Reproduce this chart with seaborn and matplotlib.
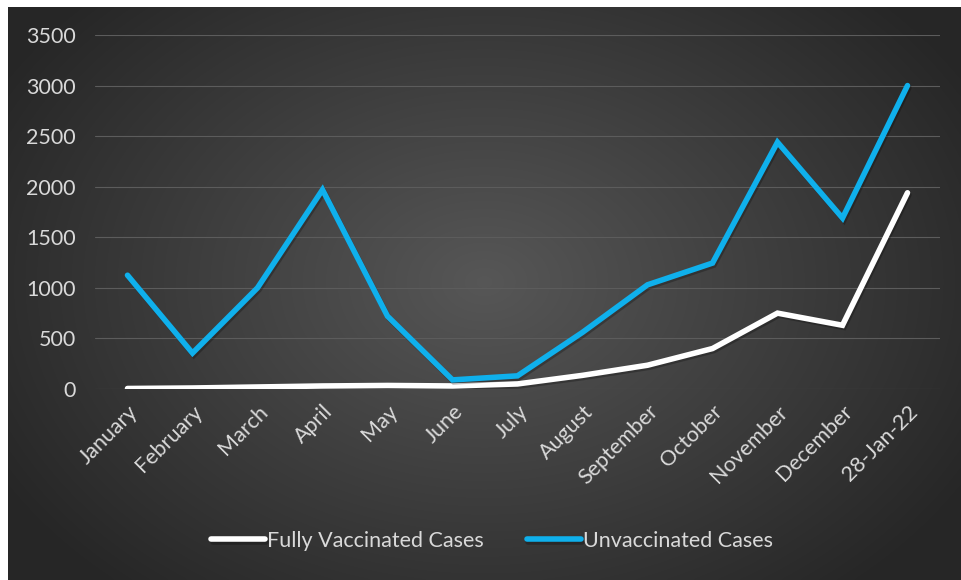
import numpy as np
import pandas as pd
import matplotlib
matplotlib.use('Agg')
import matplotlib.pyplot as plt
import matplotlib.patheffects as pe
import seaborn as sns

months = ['January', 'February', 'March', 'April', 'May', 'June', 'July',
          'August', 'September', 'October', 'November', 'December', '28-Jan-22']
fully_vaccinated = [5, 10, 20, 30, 35, 30, 50, 135, 235, 400, 750, 630, 1940]
unvaccinated = [1125, 355, 1000, 1970, 720, 90, 130, 560, 1030, 1245, 2440, 1690, 3000]

df = pd.DataFrame({
    'month': months * 2,
    'cases': fully_vaccinated + unvaccinated,
    'series': ['Fully Vaccinated Cases'] * len(months) + ['Unvaccinated Cases'] * len(months),
})

sns.set_theme(style='dark')
plt.rcParams['font.family'] = ['Lato', 'DejaVu Sans']

W, H = 961, 580
fig = plt.figure(figsize=(W / 100, H / 100), dpi=100)
fig.patch.set_facecolor('white')

# radial gradient background like the excel chart style
bg = fig.add_axes([8 / W, 0, 952 / W, 573 / H])
yy, xx = np.mgrid[0:1:300j, 0:1:500j]
r = np.sqrt(((xx - 0.5) / 0.62) ** 2 + ((yy - 0.48) / 0.75) ** 2)
shade = np.clip(0.34 - 0.2 * r, 0.15, 1)
bg.imshow(np.dstack([shade] * 3), aspect='auto', extent=[0, 1, 0, 1], interpolation='bicubic')
bg.set_axis_off()

ax = fig.add_axes([95 / W, 191 / H, 845 / W, 354 / H])
ax.set_facecolor('none')

shadow = [pe.SimpleLineShadow(offset=(1, -1.5), shadow_color='black', alpha=0.25), pe.Normal()]
sns.lineplot(data=df, x='month', y='cases', hue='series', sort=False,
             palette=['#ffffff', '#0fb0ec'], linewidth=4, ax=ax)
for ln in ax.get_lines():
    ln.set_path_effects(shadow)
    ln.set_solid_capstyle('round')
    ln.set_solid_joinstyle('miter')

ax.set_xlim(-0.5, len(months) - 0.5)
ax.set_ylim(0, 3500)
ax.set_yticks(np.arange(0, 3501, 500))
ax.grid(axis='y', color='#5c5c5c', linewidth=0.8)
ax.grid(axis='x', visible=False)
for s in ax.spines.values():
    s.set_visible(False)
ax.set_xlabel('')
ax.set_ylabel('')
ax.tick_params(axis='y', length=0, pad=14, labelcolor='#d9d9d9', labelsize=15.5)
ax.tick_params(axis='x', length=0, pad=9, labelcolor='#d9d9d9', labelsize=15.5)
plt.setp(ax.get_xticklabels(), rotation=45, ha='right', rotation_mode='anchor')

leg = ax.legend(loc='center', ncol=2, frameon=False, fontsize=15.5, handlelength=2.5,
                handletextpad=0.1, columnspacing=2.0)
leg.set_bbox_to_anchor((492 / W, (H - 541) / H), transform=fig.transFigure)
for t in leg.get_texts():
    t.set_color('#d9d9d9')
for h in leg.get_lines():
    h.set_linewidth(4)

fig.savefig('out.png', dpi=100)
